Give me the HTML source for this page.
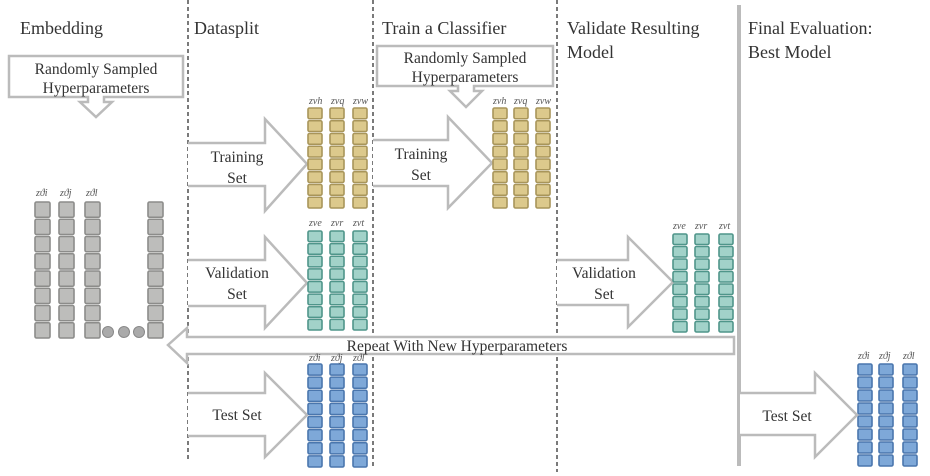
<!DOCTYPE html>
<html><head><meta charset="utf-8"><style>
html,body{margin:0;padding:0;background:#fff;}
svg{display:block;}
text{font-family:"Liberation Serif",serif;fill:#333;}
.t{font-size:18px;}
.l{font-size:15.5px;text-anchor:middle;}
.z{font-size:10px;font-style:italic;fill:#555;}
</style></head><body>
<svg id="s" width="930" height="476" viewBox="0 0 930 476" xmlns="http://www.w3.org/2000/svg">
<g stroke="#222" stroke-width="1.2" stroke-dasharray="4,3">
<line x1="188" y1="0" x2="188" y2="462"/>
<line x1="373" y1="0" x2="373" y2="468"/>
<line x1="557" y1="0" x2="557" y2="472"/>
</g>
<line x1="739" y1="5" x2="739" y2="466" stroke="#bbb" stroke-width="4"/>
<text class="t" x="20" y="34">Embedding</text>
<text class="t" x="194" y="34">Datasplit</text>
<text class="t" x="382" y="34">Train a Classifier</text>
<text class="t" x="567" y="34">Validate Resulting</text>
<text class="t" x="567" y="58">Model</text>
<text class="t" x="748" y="34">Final Evaluation:</text>
<text class="t" x="748" y="58">Best Model</text>
<g fill="#fff" stroke="#bbb" stroke-width="2.5">
<path d="M9,56 H183 V97 H104 V102 H112 L96,117 L80,102 H88 V97 H9 Z"/>
<path d="M377,46 H553 V86 H474 V91 H482 L466,107 L450,91 H458 V86 H377 Z"/>
<path d="M188,143 H265 V119 L307,164 L265,211 V186 H188"/>
<path d="M188,260 H265 V237 L307,283 L265,328 V306 H188"/>
<path d="M188,393 H265 V373 L307,415 L265,457 V436 H188"/>
<path d="M373,140 H448 V117 L492,163 L448,208 V186 H373"/>
<path d="M557,260 H628 V237 L673,282 L628,327 V305 H557"/>
<path d="M740,393 H815 V373 L857,415 L815,457 V435 H740"/>
<path d="M734,337 H187 V328 L168,345 L187,363 V354 H734 Z"/>
</g>
<text class="l" x="96" y="74">Randomly Sampled</text>
<text class="l" x="96" y="93">Hyperparameters</text>
<text class="l" x="465" y="63">Randomly Sampled</text>
<text class="l" x="465" y="82">Hyperparameters</text>
<text class="l" x="237" y="162">Training</text>
<text class="l" x="237" y="183">Set</text>
<text class="l" x="237" y="278">Validation</text>
<text class="l" x="237" y="299">Set</text>
<text class="l" x="237" y="420">Test Set</text>
<text class="l" x="421" y="159">Training</text>
<text class="l" x="421" y="180">Set</text>
<text class="l" x="604" y="278">Validation</text>
<text class="l" x="604" y="299">Set</text>
<text class="l" x="787" y="421">Test Set</text>
<text class="l" x="457" y="351">Repeat With New Hyperparameters</text>
<g fill="#aaa" stroke="#888" stroke-width="1">
<circle cx="108" cy="332" r="5.5"/><circle cx="124" cy="332" r="5.5"/><circle cx="139" cy="332" r="5.5"/>
</g>
<g id="sq"></g>
<text class="z" x="36" y="196">zϑi</text><text class="z" x="60" y="196">zϑj</text><text class="z" x="86" y="196">zϑl</text>
<text class="z" x="309" y="104">zvh</text><text class="z" x="331" y="104">zvq</text><text class="z" x="353" y="104">zvw</text>
<text class="z" x="309" y="226">zve</text><text class="z" x="331" y="226">zvr</text><text class="z" x="353" y="226">zvt</text>
<text class="z" x="309" y="361">zϑi</text><text class="z" x="331" y="361">zϑj</text><text class="z" x="353" y="361">zϑl</text>
<text class="z" x="493" y="104">zvh</text><text class="z" x="514" y="104">zvq</text><text class="z" x="536" y="104">zvw</text>
<text class="z" x="673" y="229">zve</text><text class="z" x="695" y="229">zvr</text><text class="z" x="719" y="229">zvt</text>
<text class="z" x="858" y="359">zϑi</text><text class="z" x="879" y="359">zϑj</text><text class="z" x="903" y="359">zϑl</text>
</svg>
<script>
var g=document.getElementById('sq'),ns='http://www.w3.org/2000/svg';
function col(x,y0,y1,w,fill,stroke){var n=8,h=(y1-y0)/n;for(var i=0;i<n;i++){var r=document.createElementNS(ns,'rect');r.setAttribute('x',x);r.setAttribute('y',y0+i*h+1);r.setAttribute('width',w);r.setAttribute('height',h-2);r.setAttribute('rx',1.5);r.setAttribute('fill',fill);r.setAttribute('stroke',stroke);r.setAttribute('stroke-width',1.6);g.appendChild(r);}}
[35,59,85,148].forEach(function(x){col(x,201,339,15,'#bdbdbb','#8c8c8a');});
[308,330,353].forEach(function(x){col(x,107,209,14,'#dcc98c','#a8955a');});
[308,330,353].forEach(function(x){col(x,230,331,14,'#a2d2c9','#4f958a');});
[308,330,353].forEach(function(x){col(x,363,468,14,'#7ea8d8','#4a76ad');});
[493,514,536].forEach(function(x){col(x,107,209,14,'#dcc98c','#a8955a');});
[673,695,719].forEach(function(x){col(x,233,333,14,'#a2d2c9','#4f958a');});
[858,879,903].forEach(function(x){col(x,363,467,14,'#7ea8d8','#4a76ad');});
</script>
</body></html>
